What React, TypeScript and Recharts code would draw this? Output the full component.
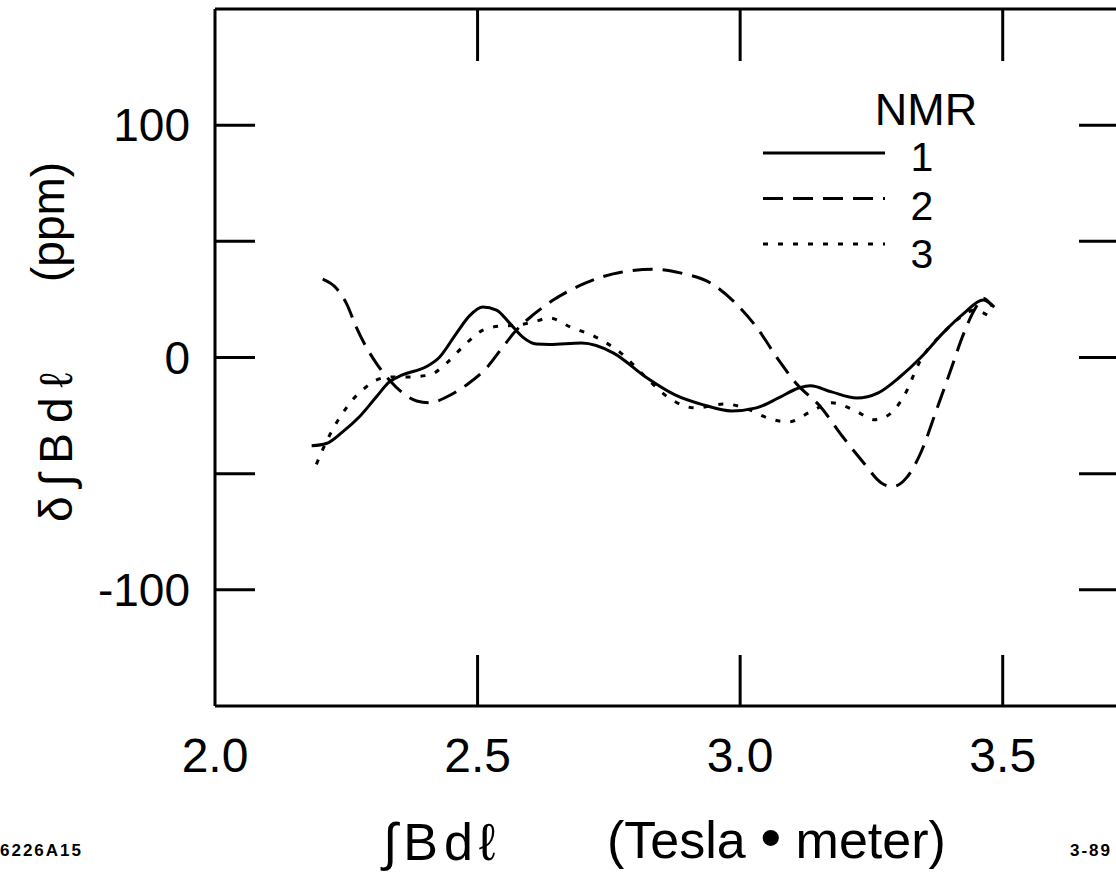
import React from "react";
import { LineChart, Line, XAxis, YAxis, Legend } from "recharts";

type Pt = [number, number];

// tick values
const xLabelTicks = [2.0, 2.5, 3.0, 3.5];
const xInnerTicks = [2.5, 3.0, 3.5];
const yLabelTicks = [-100, 0, 100];
const yInnerTicks = [-100, -50, 0, 50, 100];

// NMR probe 1 (solid)
const nmr1: Pt[] = [
  [2.184, -38], [2.212, -37], [2.243, -32], [2.275, -25.5], [2.307, -17],
  [2.332, -10.5], [2.357, -7.5], [2.402, -4], [2.427, 0], [2.46, 10.5],
  [2.485, 18], [2.51, 21.7], [2.536, 20.4], [2.561, 14.8], [2.586, 8.8],
  [2.612, 5.8], [2.637, 5.6], [2.698, 6.2], [2.759, 1.9], [2.82, -8.4],
  [2.875, -16], [2.93, -20.4], [2.984, -23], [3.031, -21.7], [3.073, -17.4],
  [3.113, -13], [3.134, -12.2], [3.174, -14.8], [3.222, -17.4], [3.263, -15.2],
  [3.304, -8.4], [3.344, 0], [3.386, 10.5], [3.426, 19], [3.463, 24.7],
  [3.484, 21.7],
];

// NMR probe 2 (dashed)
const nmr2: Pt[] = [
  [2.205, 33.7], [2.231, 29.8], [2.25, 23.4], [2.269, 13.1], [2.288, 4.5],
  [2.307, -2.4], [2.332, -9.7], [2.357, -15.2], [2.384, -18.7], [2.409, -19.5],
  [2.441, -17], [2.479, -11.8], [2.517, -4.5], [2.548, 4.5], [2.574, 11.8],
  [2.605, 18.2], [2.644, 24.7], [2.705, 32], [2.773, 36.7], [2.835, 38],
  [2.888, 36.3], [2.944, 32], [2.991, 23.4], [3.031, 13.1], [3.073, -1],
  [3.106, -11], [3.153, -21.2], [3.195, -34], [3.235, -45.3], [3.269, -54],
  [3.29, -55.6], [3.317, -51.7], [3.344, -41], [3.372, -23.8], [3.399, -6.7],
  [3.426, 10.5], [3.446, 20.4], [3.463, 25.5], [3.48, 22],
];

// NMR probe 3 (dotted)
const nmr3: Pt[] = [
  [2.193, -46], [2.205, -39.7], [2.224, -31], [2.243, -24], [2.262, -18.2],
  [2.281, -14], [2.307, -9.7], [2.332, -8.4], [2.364, -8.4], [2.409, -7.5],
  [2.441, -2.4], [2.479, 6.2], [2.51, 11.8], [2.542, 13.5], [2.574, 13.9],
  [2.605, 15.2], [2.637, 17], [2.677, 13.1], [2.725, 8.8], [2.773, 1.9],
  [2.82, -8.4], [2.862, -17], [2.915, -21.7], [2.97, -20], [3.018, -22.5],
  [3.052, -26], [3.092, -27.7], [3.134, -23.4], [3.174, -19.5], [3.216, -22.5],
  [3.256, -26.8], [3.283, -24.7], [3.311, -17], [3.344, -1], [3.386, 10.5],
  [3.42, 17.4], [3.446, 20.4], [3.471, 18.2],
];

const seriesNames = ["1", "2", "3"];

const FONT = '"Liberation Sans", Arial, Helvetica, sans-serif';
const INK = "#000";
const DASHES = [undefined, "20 10", "5 10"];

const toRows = (pts: Pt[]) => pts.map(([x, y]) => ({ x, y }));
const series = [nmr1, nmr2, nmr3].map((pts, i) => ({
  name: seriesNames[i],
  data: toRows(pts),
  dash: DASHES[i],
}));

const border = { stroke: INK, strokeWidth: 3 };
const noLabel = () => <g />;

function NmrLegend() {
  return (
    <svg width={260} height={200} style={{ display: "block", overflow: "visible" }}>
      <text x={171} y={40} fontSize={45} textAnchor="middle" fontFamily={FONT} fill={INK}>
        NMR
      </text>
      {series.map((s, i) => (
        <g key={s.name}>
          <line
            x1={8}
            x2={130}
            y1={68 + i * 45.5}
            y2={68 + i * 45.5}
            stroke={INK}
            strokeWidth={3}
            strokeDasharray={s.dash}
          />
          <text
            x={167}
            y={86 + i * 48.5}
            fontSize={41}
            textAnchor="middle"
            fontFamily={FONT}
            fill={INK}
          >
            {s.name}
          </text>
        </g>
      ))}
    </svg>
  );
}

function YTitle(props: any) {
  const vb = props.viewBox || { x: 0, y: 9 };
  return (
    <g fontFamily={FONT} fill={INK}>
      <text transform={`translate(${vb.x + 72}, ${vb.y + 513}) rotate(-90)`} fontSize={46} letterSpacing={10}>
        δ∫Bdℓ
      </text>
      <text transform={`translate(${vb.x + 64}, ${vb.y + 273}) rotate(-90)`} fontSize={46}>
        (ppm)
      </text>
    </g>
  );
}

function XTitle(props: any) {
  const vb = props.viewBox || { x: 215, y: 706 };
  return (
    <g fontFamily={FONT} fill={INK}>
      <text x={vb.x + 168} y={vb.y + 154} fontSize={52} letterSpacing={6}>
        ∫Bdℓ
      </text>
      <text x={vb.x + 392} y={vb.y + 152} fontSize={52}>
        (Tesla <tspan fontSize={60}>•</tspan> meter)
      </text>
      <text x={vb.x - 215} y={vb.y + 150} fontSize={17} fontWeight="bold" letterSpacing={2}>
        6226A15
      </text>
      <text x={vb.x + 855} y={vb.y + 150} fontSize={17} fontWeight="bold" letterSpacing={2}>
        3-89
      </text>
    </g>
  );
}

export default function App() {
  return (
    <div
      style={{
        position: "absolute",
        left: 0,
        top: 0,
        width: 1116,
        height: 875,
        overflow: "hidden",
        background: "#fff",
      }}
    >
      <LineChart width={1144} height={875} margin={{ top: 9, right: 10, bottom: 0, left: 0 }}>
        <XAxis
          xAxisId="x"
          type="number"
          dataKey="x"
          domain={[2, 3.75]}
          allowDataOverflow
          ticks={xLabelTicks}
          interval={0}
          orientation="bottom"
          height={169}
          axisLine={border}
          tickLine={false}
          tickSize={6}
          tickMargin={26}
          tick={{ fill: INK, fontSize: 48, fontFamily: FONT }}
          tickFormatter={(v: number) => v.toFixed(1)}
          label={{ content: XTitle }}
        />
        <XAxis
          xAxisId="xb"
          type="number"
          dataKey="x"
          domain={[2, 3.75]}
          allowDataOverflow
          ticks={xInnerTicks}
          interval={0}
          orientation="bottom"
          mirror
          axisLine={false}
          tickLine={border}
          tickSize={51}
          tick={noLabel}
        />
        <XAxis
          xAxisId="xt"
          type="number"
          dataKey="x"
          domain={[2, 3.75]}
          allowDataOverflow
          ticks={xInnerTicks}
          interval={0}
          orientation="top"
          mirror
          axisLine={border}
          tickLine={border}
          tickSize={52}
          tick={noLabel}
        />
        <YAxis
          yAxisId="y"
          type="number"
          domain={[-150, 150]}
          allowDataOverflow
          ticks={yLabelTicks}
          interval={0}
          width={215}
          axisLine={border}
          tickLine={false}
          tickSize={6}
          tickMargin={19}
          tick={{ fill: INK, fontSize: 46, fontFamily: FONT }}
          label={{ content: YTitle }}
        />
        <YAxis
          yAxisId="yl"
          type="number"
          domain={[-150, 150]}
          allowDataOverflow
          ticks={yInnerTicks}
          interval={0}
          orientation="left"
          mirror
          axisLine={false}
          tickLine={border}
          tickSize={40}
          tick={noLabel}
        />
        <YAxis
          yAxisId="yr"
          type="number"
          domain={[-150, 150]}
          allowDataOverflow
          ticks={yInnerTicks}
          interval={0}
          orientation="right"
          mirror
          axisLine={border}
          tickLine={border}
          tickSize={55}
          tick={noLabel}
        />
        {series.map((s) => (
          <Line
            key={s.name}
            name={s.name}
            xAxisId="x"
            yAxisId="y"
            data={s.data}
            dataKey="y"
            type="monotone"
            stroke={INK}
            strokeWidth={3}
            strokeDasharray={s.dash}
            dot={false}
            activeDot={false}
            isAnimationActive={false}
          />
        ))}
        <Legend
          layout="horizontal"
          verticalAlign="middle"
          align="center"
          content={() => <NmrLegend />}
          wrapperStyle={{ left: 755, top: 85, width: 260, height: 200 }}
        />
      </LineChart>
    </div>
  );
}
